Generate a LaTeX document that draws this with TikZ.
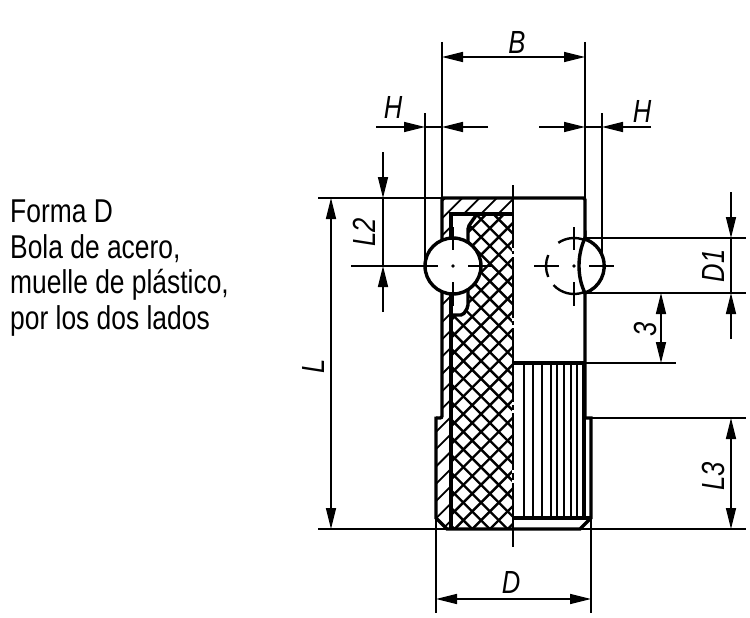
\documentclass[tikz,border=0pt]{standalone}
\usepackage{fontspec}
\setmainfont[FakeStretch=0.8]{Liberation Sans}
\usetikzlibrary{arrows.meta}

\begin{document}
\begin{tikzpicture}[x=1pt,y=-1pt,>={Stealth[length=21pt,width=10pt,inset=0pt]},
    dim line/.style={line width=1.5pt},
    part line/.style={line width=3.4pt},
    mid line/.style={line width=2.4pt},
    center line/.style={line width=1.5pt},
    hatch line/.style={line width=1.8pt},
    cross line/.style={line width=2.4pt},
    knurl line/.style={line width=1.5pt},
    dim text/.style={font=\fontsize{32}{32}\selectfont\itshape,inner sep=0pt},
    main text/.style={font=\fontsize{33}{35.7}\selectfont,inner sep=0pt,align=left,anchor=north west}]

    \useasboundingbox (0,0) rectangle (750,618);

    \node[main text] (title) at (10,199.5) {Forma D\\Bola de acero,\\muelle de plástico,\\por los dos lados};

    % section hatching
    \begin{scope}
        \clip (442,198) -- (513,198) -- (513,214) -- (451,214) -- (451,529) -- (447,529) -- (436,518) -- (436,418) -- (442,418) -- cycle;
        \foreach \c in {643,660.3,...,990}
            \draw[hatch line] (\c-150,150) -- (\c-550,550);
    \end{scope}
    \begin{scope}
        \clip (477,214) -- (513,214) -- (513,529) -- (451,529) -- (451,315) -- (463,315) -- (468,307) -- (468,227) -- cycle;
        \foreach \c in {665,682.7,...,1050}
            \draw[cross line] (\c-150,150) -- (\c-550,550);
        \foreach \d in {-110,-92.3,...,280}
            \draw[cross line] (\d+150,150) -- (\d+550,550);
    \end{scope}

    % knurl
    \foreach \x in {524,533,542,551,557,564,571,577,583}
        \draw[knurl line] (\x,363) -- (\x,518);

    % extension lines
    \draw[dim line] (442,42) -- (442,198);
    \draw[dim line] (585,42) -- (585,198);
    \draw[dim line] (425,113) -- (425,266);
    \draw[dim line] (602,113) -- (602,266);
    \draw[dim line] (436,518) -- (436,613);
    \draw[dim line] (591,518) -- (591,613);
    \draw[dim line] (318,198) -- (442,198);
    \draw[dim line] (351,266) -- (438,266);
    \draw[dim line] (585,238) -- (746,238);
    \draw[dim line] (585,293) -- (746,293);
    \draw[dim line] (585,363) -- (676,363);
    \draw[dim line] (585,418) -- (746,418);
    \draw[dim line] (318,529) -- (746,529);

    % centre line and its gaps
    \draw[center line] (513,185) -- (513,547);
    \foreach \y in {248,254,318,325,402,410,470,480}
        \draw[white,line width=2pt] (513,\y) -- (513,\y+3);

    % body
    \draw[part line,rounded corners=2pt] (585,418) -- (585,198) -- (442,198) -- (442,418) -- (436,418);
    \draw[part line] (436,416.5) -- (436,518) -- (447,529) -- (580,529) -- (591,518) -- (591,418) -- (584,418);
    \draw[mid line] (585,418) -- (585,518);
    \draw[part line] (451,529) -- (451,214) -- (513,214);
    \draw[part line,rounded corners=2pt] (477,214) -- (468,227) -- (468,307) -- (463,315) -- (451,315);
    \draw[part line] (513,363) -- (585,363);
    \draw[part line] (513,518) -- (591,518);

    % balls
    \draw[part line,fill=white] (453,266) circle[radius=28];
    \draw[part line,fill=white] (585,238) .. controls (577,255) and (577,277) .. (585,293) arc[start angle=71,end angle=-71,radius=28.5] -- cycle;
    \draw[mid line] (574,266) ++(236:28) arc[start angle=236,end angle=293,radius=28];
    \draw[mid line] (574,266) ++(157:28) arc[start angle=157,end angle=203,radius=28];
    \draw[mid line] (574,266) ++(70:28) arc[start angle=70,end angle=137,radius=28];

    % ball centres
    \foreach \x in {453,574} {
        \fill (\x,266) circle[radius=1.8];
        \draw[center line] (\x,227) -- (\x,250);
        \draw[center line] (\x,282) -- (\x,306);
        \draw[center line] (\x-40,266) -- (\x-15,266);
        \draw[center line] (\x+15,266) -- (\x+40,266);
    }

    % dimensions
    \draw[dim line,<->] (442,57) -- (585,57);
    \node[dim text] (dim B) at (517,42) {B};

    \draw[dim line,->] (376,127) -- (425,127);
    \draw[dim line] (425,127) -- (442,127);
    \draw[dim line,->] (488,127) -- (442,127);
    \node[dim text] (dim H left) at (393,107) {H};

    \draw[dim line,->] (539,127) -- (585,127);
    \draw[dim line] (585,127) -- (602,127);
    \draw[dim line,->] (651,127) -- (602,127);
    \node[dim text] (dim H right) at (642,111.5) {H};

    \draw[dim line,->] (383,152) -- (383,198);
    \draw[dim line] (383,198) -- (383,266);
    \draw[dim line,->] (383,312) -- (383,266);
    \node[dim text,rotate=90] (dim L2) at (364,232) {L2};

    \draw[dim line,<->] (331,198) -- (331,529);
    \node[dim text,rotate=90] (dim L) at (313,366) {L};

    \draw[dim line,->] (731,192) -- (731,238);
    \draw[dim line] (731,238) -- (731,293);
    \draw[dim line,->] (731,339) -- (731,293);
    \node[dim text,rotate=90] (dim D1) at (713,266) {D1};

    \draw[dim line,<->] (661,293) -- (661,363);
    \node[dim text,rotate=90] (dim 3) at (645,329) {3};

    \draw[dim line,<->] (731,418) -- (731,529);
    \node[dim text,rotate=90] (dim L3) at (713,476) {L3};

    \draw[dim line,<->] (436,599) -- (591,599);
    \node[dim text] (dim D) at (511,582) {D};
\end{tikzpicture}
\end{document}
